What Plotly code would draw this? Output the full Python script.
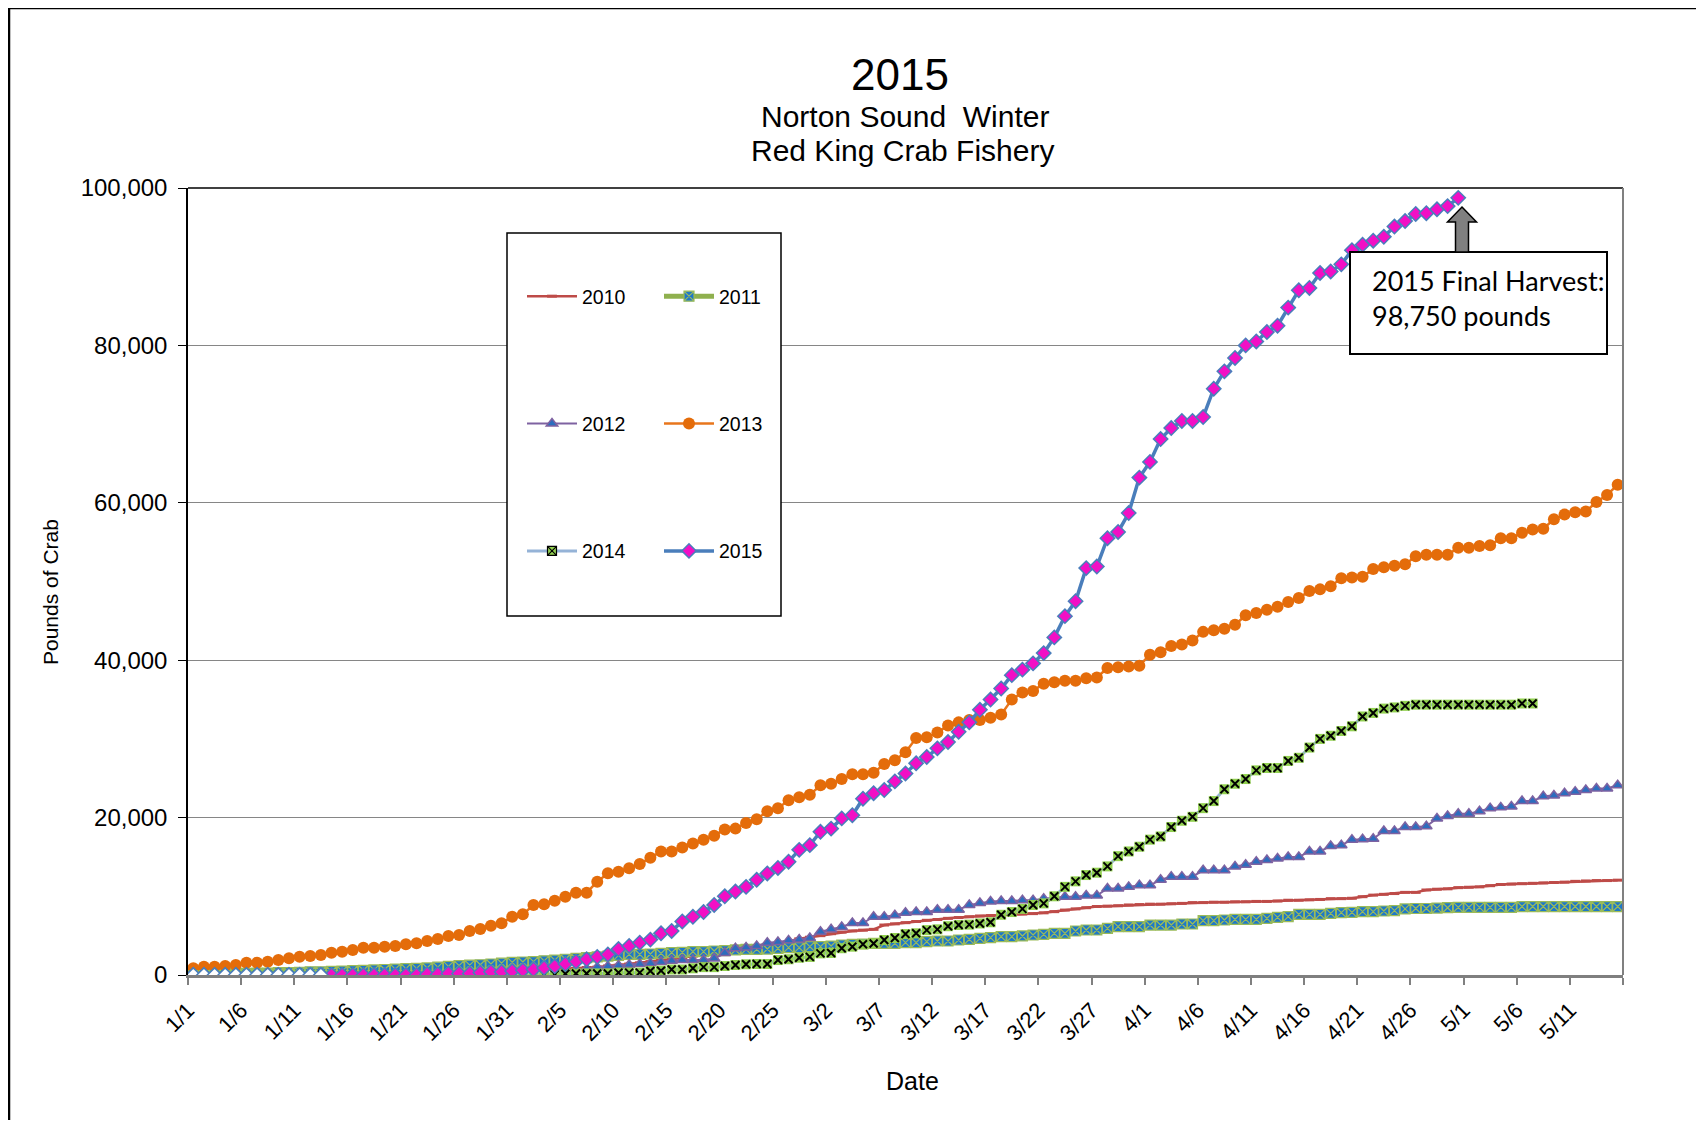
"""
Norton Sound winter red king crab fishery: cumulative harvest by date, 2010-2015.
"""

import pandas as pd
import plotly.graph_objects as go

# Categories: one point per day, 1/1 .. 5/15
DATES = [f"{d.month}/{d.day}" for d in pd.date_range("2015-01-01", "2015-05-15")]
DAY = list(range(len(DATES)))

# Tick labels every 5 days (last tick closes the axis, no label)
TICK_LABELS = ["1/1", "1/6", "1/11", "1/16", "1/21", "1/26", "1/31", "2/5", "2/10",
               "2/15", "2/20", "2/25", "3/2", "3/7", "3/12", "3/17", "3/22", "3/27",
               "4/1", "4/6", "4/11", "4/16", "4/21", "4/26", "5/1", "5/6", "5/11", ""]

# Cumulative pounds of crab
Y2010 = [0, 0, 0, 0, 0, 0, 0, 0, 0, 0, 0, 0, 0, 0, 0, 0, 0, 0, 0, 0, 0, 0, 0, 0, 0,
         100, 150, 200, 300, 350, 400, 500, 550, 650, 700, 800, 850, 950, 1000,
         1150, 1250, 1400, 1550, 1700, 1850, 2000, 2200, 2400, 2650,
         2850, 3050, 3250, 3400, 3550, 3700, 3950, 4250, 4600, 4800,
         5000, 5250, 5450, 5600, 5700, 5800,
         6350, 6500, 6650, 6800, 6950, 7050, 7200, 7300, 7400, 7500,
         7550, 7600, 7650, 7750, 7800, 7900, 8050, 8250, 8400, 8550,
         8700, 8750, 8800, 8900, 8950, 9000,
         9000, 9050, 9100, 9200, 9200, 9250, 9250, 9300, 9300, 9350,
         9350, 9400, 9500, 9500, 9550, 9600, 9700, 9700, 9750, 9950,
         10150, 10250, 10350, 10500, 10500, 10800, 10900, 10950, 11100, 11150,
         11200, 11350, 11500, 11550, 11600, 11650, 11700, 11750, 11800, 11900,
         11950, 12000, 12000, 12050]

Y2011 = [100, 100, 150, 150, 200, 200, 250, 250, 300, 300,
         350, 400, 400, 450, 500, 550, 600, 650, 700, 750,
         800, 850, 900, 1000, 1100, 1200, 1250, 1300, 1400, 1500,
         1600, 1650, 1700, 1800, 1900, 2000, 2100, 2200, 2300, 2400,
         2500, 2630,
         2630, 2670, 2750, 2840, 2880, 2960, 2960, 3050, 3090, 3180,
         3260, 3260, 3300, 3390, 3470, 3470, 3600, 3600, 3680, 3810,
         3900, 3940, 4020, 4020, 4020, 4110, 4110, 4240, 4320, 4320,
         4450, 4530, 4660, 4750, 4870, 4870,
         4960, 5080, 5170, 5290, 5290, 5590, 5720, 5720, 5930, 6140,
         6140, 6140, 6350, 6350, 6350, 6480, 6480, 6900, 6900, 6990,
         7070, 7070, 7070, 7200, 7330, 7410, 7710, 7710, 7710, 7840,
         7920, 7950, 8050, 8050, 8130, 8170,
         8400, 8450, 8450, 8500, 8550, 8600, 8600, 8600, 8600, 8600,
         8600, 8700, 8700, 8700, 8700, 8700, 8700, 8700, 8700, 8700,
         8700]

Y2012 = [0, 0, 0, 0, 0, 0, 0, 0, 0, 0, 0, 0, 0, 0, 0, 0, 0,
         0, 0, 0, 0, 0, 0, 0, 0, 0, 0, 0, 0, 0, 0, 0, 0, 0,
         200, 400, 600, 800, 1000, 1100, 1200, 1300, 1400, 1500,
         1650, 1800, 1900, 1900, 1900, 2100, 2800, 3400, 3500, 3700,
         4100, 4200, 4400, 4500, 4700, 5500, 5800, 6100, 6600, 6600,
         7400, 7400, 7600, 7900, 8000, 8000, 8300, 8300, 8300, 8900,
         9150, 9350, 9400, 9400, 9500, 9500, 9700, 9800, 9950, 9950,
         10100, 10100, 11000, 11000, 11200, 11400, 11400, 12100, 12500, 12500,
         12500, 13300, 13300, 13300, 13800, 14000, 14400, 14600, 14800, 15000,
         15000, 15700, 15700, 16400, 16500, 17200, 17250, 17300, 18300, 18300,
         18800, 18800, 18900, 19900, 20200, 20500, 20500, 20800, 21200, 21300,
         21400, 22100, 22100, 22700, 22800, 23100, 23300, 23500, 23700, 23700,
         24100]

Y2013 = [850, 1060, 1060, 1140, 1270, 1570, 1570, 1690, 1910, 2120,
         2330, 2410, 2540, 2840, 2960, 3180, 3470, 3470, 3600, 3680,
         3900, 4020, 4320, 4570, 4960, 5080, 5590, 5850, 6270, 6570,
         7410, 7710, 8890, 8980, 9440, 9950, 10460, 10460, 11860, 12920,
         13130, 13550, 14100, 14900, 15700, 15700, 16200, 16700, 17200, 17700,
         18500, 18600, 19300, 19800, 20800, 21200, 22200, 22600, 22900, 24100,
         24300, 24900, 25500, 25500, 25700, 26800, 27300, 28300, 30100, 30200,
         30800, 31700, 32100, 32400, 32400, 32700, 33100, 35000, 35900, 36100,
         37000, 37200, 37400, 37400, 37700, 37800, 39000, 39100, 39200, 39300,
         40700, 41000, 41800, 42000, 42500, 43600, 43800, 44000, 44500, 45700,
         46000, 46400, 46800, 47400, 47900, 48800, 49000, 49400, 50400, 50500,
         50600, 51600, 51800, 52000, 52200, 53200, 53400, 53400, 53400, 54300,
         54300, 54500, 54600, 55500, 55500, 56200, 56600, 56700, 57900, 58500,
         58800, 58900, 60100, 61000, 62300]

Y2014 = [0, 0, 0, 0, 0, 0, 0, 0, 0, 0, 0, 0, 0, 0, 0, 0, 0,
         0, 0, 0, 0, 0, 0, 0, 0, 0, 0, 0, 0, 0, 0, 0, 0,
         100, 100, 150, 200, 200, 200,
         200, 300, 300, 300, 500, 550, 700, 700, 850, 1000,
         1000, 1140, 1270, 1360, 1400, 1400, 1900, 2000, 2200, 2300,
         2750, 2800, 3400, 3600, 3900, 4000, 4450, 4700, 5200, 5300,
         5700, 5800, 6200, 6350, 6400, 6550, 6700, 7650, 8000, 8400,
         8900, 9100, 10000, 11200, 11900, 12700, 13000, 13800, 15100, 15700,
         16300, 17200, 17600, 18800, 19600, 20100, 21200, 22100, 23600, 24300,
         24900, 26000, 26300, 26300, 27200, 27600, 28900, 30000, 30400, 31000,
         31600, 32850, 33300, 33850, 34000, 34200, 34350, 34350, 34350, 34350,
         34350, 34350, 34350, 34350, 34350, 34350, 34500, 34500]

Y2015 = [0, 0, 0, 0, 0, 0, 0, 0, 0, 0, 0, 0, 0, 0,
         0, 0, 0, 0, 0, 0, 0, 0, 100, 100,
         200, 200, 200, 300, 400, 400, 500, 600, 700, 900,
         1100, 1400, 1700, 2000, 2300, 2600, 3300, 3700, 4100, 4500,
         5300, 5600, 6800, 7400, 8000, 8900, 10000, 10600, 11200, 12100,
         12900, 13600, 14400, 15900, 16500, 18200, 18600, 19900, 20300, 22400,
         23100, 23500, 24600, 25600, 26900, 27700, 28800, 29600, 30900, 32100,
         33700, 35000, 36400, 38100, 38800, 39600, 40900, 42900, 45600, 47500,
         51700, 51900, 55500, 56300, 58700, 63200, 65200, 68100, 69500, 70400,
         70400, 70900, 74500, 76700, 78400, 80000, 80500, 81700, 82500, 84800,
         87000, 87300, 89200, 89400, 90300, 92100, 92800, 93300, 93800, 95100,
         95800, 96700, 96800, 97300, 97700, 98750]

OPEN_2015 = "1/15"  # before this day the 2015 points are drawn hollow

# Page geometry (the html body adds an 8px margin round the figure)
PAGE_W, PAGE_H, BODY = 1705, 1128, 8
PLOT_L, PLOT_R, PLOT_T, PLOT_B = 188, 1623, 188, 975


def px_x(x):
    return (x - PLOT_L) / (PLOT_R - PLOT_L)


def px_y(y):
    return (PLOT_B - y) / (PLOT_B - PLOT_T)


ARIAL = "Liberation Sans, Arial, sans-serif"

C2010, C2011, C2012 = "#BE4B48", "#8FB04E", "#7E62A1"
C2013, C2014, C2015 = "#E46C0A", "#95B3D7", "#4A7EBB"
GREEN, MAGENTA = "#92D050", "#F20FC5"

fig = go.Figure()


def add_series(name, values, legend, line, marker, **kw):
    fig.add_trace(
        go.Scatter(
            x=DAY[: len(values)],
            y=values,
            customdata=DATES[: len(values)],
            name=name,
            mode="lines+markers",
            line=line,
            marker=marker,
            legend=legend,
            legendgroup=name,
            hovertemplate="%{customdata}: %{y:,}<extra>" + name + "</extra>",
            **kw,
        )
    )


add_series("2010", Y2010, "legend", dict(color=C2010, width=2.5),
           dict(symbol="line-ew-open", size=7, color=C2010, line=dict(color=C2010, width=3)))
add_series("2011", Y2011, "legend2", dict(color=C2011, width=5),
           dict(symbol="square-x", size=10, color="#1E78C8", line=dict(color="#9BBB59", width=1.2)))
add_series("2012", Y2012, "legend", dict(color=C2012, width=2),
           dict(symbol="triangle-up", size=10, color="#2C6DBE", line=dict(color=C2012, width=1.5)))
add_series("2013", Y2013, "legend2", dict(color="#E8761C", width=2.5),
           dict(symbol="circle", size=12, color=C2013, line=dict(width=0)))

# 2014: green squares with a black cross drawn on top
add_series("2014", Y2014, "legend", dict(color=C2014, width=3),
           dict(symbol="square", size=10, color=GREEN, line=dict(width=0)), showlegend=False)
fig.add_trace(
    go.Scatter(
        x=DAY[: len(Y2014)], y=Y2014, mode="markers",
        marker=dict(symbol="x-thin-open", size=8, color="#000000", line=dict(color="#000000", width=2)),
        legend="legend", legendgroup="2014", showlegend=False, hoverinfo="skip",
    )
)
fig.add_trace(
    go.Scatter(
        x=[None], y=[None], name="2014", mode="lines+markers",
        line=dict(color=C2014, width=3),
        marker=dict(symbol="square-x", size=9, color=GREEN, line=dict(color="#000000", width=1.2)),
        legend="legend", legendgroup="2014",
    )
)

add_series("2015", Y2015, "legend2", dict(color=C2015, width=3.5),
           dict(symbol="diamond", size=11, color=MAGENTA, line=dict(color=C2015, width=1.5)))

# 2015 points before the season opened: hollow diamonds
n_open = DATES.index(OPEN_2015) - 1
fig.add_trace(
    go.Scatter(
        x=DAY[:n_open],
        y=Y2015[:n_open],
        mode="markers",
        marker=dict(symbol="diamond", size=11, color="white", line=dict(color=C2015, width=1.5)),
        legend="legend2",
        legendgroup="2015",
        showlegend=False,
        hoverinfo="skip",
    )
)

legend_style = dict(
    xanchor="left",
    yanchor="top",
    bgcolor="rgba(0,0,0,0)",
    borderwidth=0,
    font=dict(family=ARIAL, size=19.5, color="#000000"),
    tracegroupgap=99,
    itemwidth=50,
)

fig.update_layout(
    width=PAGE_W - 2 * BODY,
    height=PAGE_H - 2 * BODY,
    autosize=False,
    margin=dict(
        l=PLOT_L - BODY,
        r=PAGE_W - BODY - PLOT_R,
        t=PLOT_T - BODY,
        b=PAGE_H - BODY - PLOT_B,
    ),
    paper_bgcolor="white",
    plot_bgcolor="white",
    font=dict(family=ARIAL, color="#000000"),
    legend=dict(x=px_x(522), y=px_y(277), **legend_style),
    legend2=dict(x=px_x(659), y=px_y(277), **legend_style),
    xaxis=dict(
        range=[-0.5, len(DATES) - 0.5],
        tickvals=[i - 0.5 for i in range(0, len(DATES) + 1, 5)],
        ticktext=TICK_LABELS,
        tickangle=-45,
        tickfont=dict(family=ARIAL, size=22, color="#000000"),
        ticks="outside",
        ticklen=7,
        tickwidth=1.5,
        tickcolor="#808080",
        ticklabelshift=0,
        ticklabelstandoff=4,
        showline=True,
        linecolor="#7F7F7F",
        linewidth=2.5,
        showgrid=False,
        zeroline=False,
    ),
    yaxis=dict(
        range=[0, 100000],
        dtick=20000,
        tickformat=",",
        tickfont=dict(family=ARIAL, size=24, color="#000000"),
        ticks="outside",
        ticklen=8,
        tickwidth=1,
        tickcolor="#000000",
        ticklabelstandoff=6,
        showline=True,
        linecolor="#000000",
        linewidth=1.5,
        gridcolor="#868686",
        gridwidth=1.3,
        zeroline=False,
    ),
)

# Title block and axis titles
texts = [
    ("2015", 900, 74, 44, 0),
    ("Norton Sound\u00a0 Winter", 905, 116, 30, 0),
    ("Red King Crab Fishery", 902, 150, 30, 0),
    ("Date", 913, 1081, 25, 0),
    ("Pounds of Crab", 50, 592, 21, -90),
]
for text, x, y, size, angle in texts:
    fig.add_annotation(
        text=text, x=px_x(x), y=px_y(y), xref="paper", yref="paper",
        xanchor="center", yanchor="middle", showarrow=False,
        font=dict(family=ARIAL, size=size, color="#000000"), textangle=angle,
    )

# Final harvest call-out: box, text and block arrow
box_l, box_t, box_r, box_b = 1350, 252, 1607, 354
fig.add_shape(type="rect", xref="paper", yref="paper",
              x0=px_x(box_l), x1=px_x(box_r), y0=px_y(box_b), y1=px_y(box_t),
              fillcolor="white", line=dict(color="#000000", width=2), layer="above")
fig.add_annotation(
    text="2015 Final Harvest:<br>98,750 pounds",
    x=px_x(1370), y=px_y(262), xref="paper", yref="paper",
    xanchor="left", yanchor="top", showarrow=False, align="left",
    font=dict(family="Lato, Open Sans, sans-serif", size=27, color="#000000"),
)

tip_x, tip_y, head_y = 1462, 207, 222
arrow = [(tip_x, tip_y), (tip_x + 14.5, head_y), (tip_x + 6.5, head_y), (tip_x + 6.5, box_t),
         (tip_x - 6.5, box_t), (tip_x - 6.5, head_y), (tip_x - 14.5, head_y)]
path = "M " + " L ".join(f"{px_x(x):.5f},{px_y(y):.5f}" for x, y in arrow) + " Z"
fig.add_shape(type="path", path=path, xref="paper", yref="paper",
              fillcolor="#808080", line=dict(color="#000000", width=1.5), layer="above")

# Legend frame (covers gridlines behind the legend)
fig.add_shape(type="rect", xref="paper", yref="paper",
              x0=px_x(507), x1=px_x(781), y0=px_y(616), y1=px_y(233),
              fillcolor="white", line=dict(color="#000000", width=1.5), layer="above")

# Plot frame: top and right edges
fig.add_shape(type="line", xref="paper", yref="paper", x0=0, x1=1, y0=1, y1=1,
              line=dict(color="#000000", width=1.5))
fig.add_shape(type="line", xref="paper", yref="paper", x0=1, x1=1, y0=0, y1=1,
              line=dict(color="#808080", width=2))

# Chart-area border (top and left edges visible)
fig.add_shape(type="line", xref="paper", yref="paper",
              x0=px_x(9), x1=px_x(1696), y0=px_y(8), y1=px_y(8),
              line=dict(color="#000000", width=2.5))
fig.add_shape(type="line", xref="paper", yref="paper",
              x0=px_x(9), x1=px_x(9), y0=px_y(8), y1=px_y(PAGE_H - BODY),
              line=dict(color="#000000", width=2.5))

fig.write_html("out.html")
